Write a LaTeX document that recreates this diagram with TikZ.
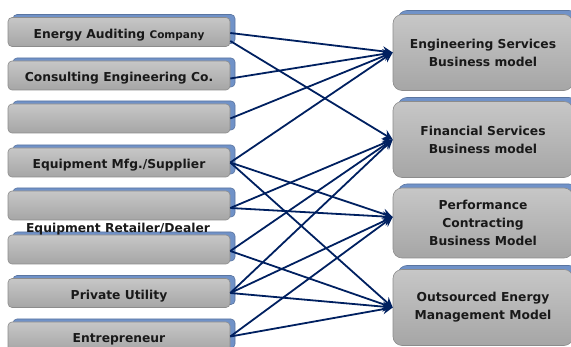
\documentclass[tikz,border=0pt]{standalone}
\usepackage{fontspec}
\setmainfont{DejaVu Sans}
\usepackage{tikz}
\usetikzlibrary{arrows.meta,shadows}
\definecolor{boxgray}{RGB}{180,180,180}
\definecolor{boxedge}{RGB}{140,140,140}
\definecolor{bevelblue}{RGB}{112,146,200}
\definecolor{linknavy}{RGB}{0,32,96}

\begin{document}
\begin{tikzpicture}[x=1pt,y=-1pt,
          every node/.style={font=\fontsize{12.3}{18}\selectfont\bfseries,
            text=black!90,align=center,inner sep=0pt},
          slab/.style={rectangle,draw=boxedge,line width=0.6pt,
            top color=boxgray!75!white,bottom color=boxgray!92!black},
          srcbox/.style={slab,rounded corners=4pt,
            minimum width=222pt,minimum height=29pt,
            text height=12.5pt,text depth=0pt,
            copy shadow={shadow xshift=5pt,shadow yshift=3pt,
              fill=bevelblue,draw=bevelblue!80!black}},
          modelbox/.style={slab,rounded corners=9pt,minimum width=180pt,
            minimum height=76pt,
            copy shadow={shadow xshift=5pt,shadow yshift=4pt,
              fill=bevelblue,draw=bevelblue!80!black}},
          link/.style={line width=1.8pt,linknavy,
            -{Stealth[length=10pt,width=10pt,inset=3.5pt]}}]
          \clip (0,0) rectangle (571,347);
          % sources
          \node[srcbox] (l1) at (119,32)    {Energy Auditing {\fontsize{10.5}{12}\selectfont Company}};
          \node[srcbox] (l2) at (119,75.5)  {Consulting Engineering Co.};
          \node[srcbox] (l3) at (119,118.5) {};
          \node[srcbox] (l4) at (119,162.5) {Equipment Mfg./Supplier};
          \node[srcbox] (l5) at (119,205.5) {};
          \node[srcbox] (l6) at (119,249.5) {};
          \node[srcbox] (l7) at (119,293)   {Private Utility};
          \node[srcbox] (l8) at (119,336.5) {Entrepreneur};
          \node (retailer) at (118,229) {Equipment Retailer/Dealer};
          % business models
          \node[modelbox] (r1) at (483,52.5)  {Engineering Services\\Business model};
          \node[modelbox] (r2) at (483,139.5) {Financial Services\\Business model};
          \node[modelbox,minimum height=70pt] (r3) at (483,223)
            {Performance\\Contracting\\Business Model};
          \node[modelbox] (r4) at (483,307.5) {Outsourced Energy\\Management Model};
          % links
          \draw[link] ([yshift=-1pt]l1.east) -- (r1.west);
          \draw[link] ([yshift=-9pt]l1.east) -- (r2.west);
          \draw[link] ([yshift=-3pt]l2.east) -- (r1.west);
          \draw[link] (l3.east) -- (r1.west);
          \draw[link] (l4.east) -- (r1.west);
          \draw[link] (l4.east) -- ([yshift=6pt]r3.west);
          \draw[link] (l4.east) -- (r4.west);
          \draw[link] ([yshift=-2.5pt]l5.east) -- (r2.west);
          \draw[link] ([yshift=-2.5pt]l5.east) -- ([yshift=6pt]r3.west);
          \draw[link] ([yshift=-1.5pt]l6.east) -- (r2.west);
          \draw[link] ([yshift=-1.5pt]l6.east) -- (r4.west);
          \draw[link] (l7.east) -- (r2.west);
          \draw[link] (l7.east) -- ([yshift=6pt]r3.west);
          \draw[link] (l7.east) -- (r4.west);
          \draw[link] (l8.east) -- ([yshift=6pt]r3.west);
          \draw[link] (l8.east) -- (r4.west);
        \end{tikzpicture}
\end{document}
